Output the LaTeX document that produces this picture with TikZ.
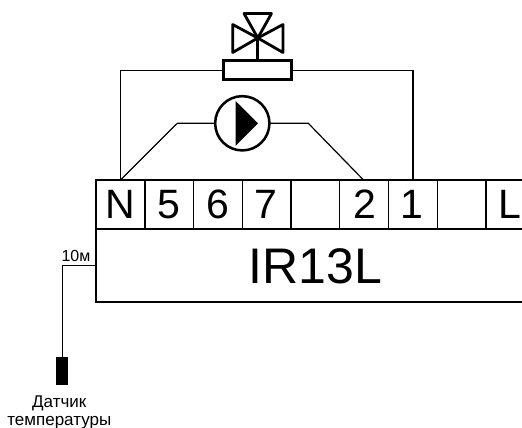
\documentclass[tikz,border=0pt]{standalone}
\usepackage{fontspec}
\setmainfont{Liberation Sans}
\newcommand{\pxfont}[1]{\fontsize{\dimexpr #1pt*3/4\relax}{\dimexpr #1pt*27/25\relax}\selectfont}
\tikzset{
  wire/.style={draw=black,line width=0.9pt,line join=miter},
  heavy/.style={draw=black,line width=2.1pt},
  frame/.style={draw=black,line width=1.4pt},
  term/.style={inner sep=0pt,anchor=base,font=\pxfont{41}},
  small/.style={inner sep=0pt,font=\pxfont{17},align=center}
}
\begin{document}
\begin{tikzpicture}[x=0.75pt,y=-0.75pt]
\useasboundingbox (0,0) rectangle (522,428);
% body
\coordinate (bl) at (96,302);
\coordinate (tl) at (96,180);
\coordinate (tr) at (522,180);
\coordinate (ml) at (96,229);
\coordinate (mr) at (522,229);
\coordinate (br) at (522,302);
\draw[frame] (br) -- (bl) -- (tl) -- (tr);
\draw[frame] (ml) -- (mr);
\foreach \x in {145,193.5,242.5,291,339.5,388.5,437.5,486}
  \draw[frame] (\x,180) -- (\x,229);
\node[term] (tN) at (120.5,219) {N};
\node[term] (t5) at (168.7,219) {5};
\node[term] (t6) at (217.5,219) {6};
\node[term] (t7) at (266,219) {7};
\node[term] (t2) at (364.5,219) {2};
\node[term] (t1) at (412,219) {1};
\node[term] (tL) at (509.5,219) {L};
\node[inner sep=0pt,anchor=base,font=\pxfont{50}] (ir) at (315.5,283) {IR13L};
\coordinate (pN) at (120.5,180);
\coordinate (p2) at (363.5,180);
\coordinate (p1) at (413,180);
% actuator and valve
\node[heavy,rectangle,minimum width=51pt,minimum height=14.5pt,inner sep=0pt,outer sep=0pt] (act) at (257.8,70.2) {};
\coordinate (vc) at (257.8,38);
\draw[heavy,line join=round] (vc) -- (244,13.5) -- (271.5,13.5) -- cycle;
\draw[heavy,line join=round] (vc) -- (232.7,24.5) -- (232.7,52.5) -- cycle;
\draw[heavy,line join=round] (vc) -- (283,24.5) -- (283,52.5) -- cycle;
\draw[heavy] (vc) -- (act.north);
\draw[wire] (act.west) -- (120.5,70.2) -- (pN);
\draw[wire] (act.east) -- (413,70.2) -- (p1);
% pump
\node[circle,draw=black,line width=1.9pt,minimum size=40.7pt,inner sep=0pt,outer sep=0pt] (pump) at (242.3,123.3) {};
\fill[black] (235.7,101) -- (258,123.3) -- (235.7,145.7) -- cycle;
\draw[wire] (pump.west) -- (177.3,123.3) -- (pN);
\draw[wire] (pump.east) -- (308.3,123.3) -- (p2);
% sensor
\coordinate (sj) at (62.5,265.5);
\node[fill=black,minimum width=9pt,minimum height=21pt,inner sep=0pt,outer sep=0pt] (sens) at (62,371) {};
\draw[wire] (ml |- sj) -- (sj) -- (sj |- sens.north);
\node[inner sep=0pt,anchor=base,font=\pxfont{16}] (tenm) at (76,262) {10м};
\node[small,anchor=base] (lab1) at (59.3,407) {Датчик};
\node[small,anchor=base] (lab2) at (59.3,425) {температуры};
\end{tikzpicture}
\end{document}
